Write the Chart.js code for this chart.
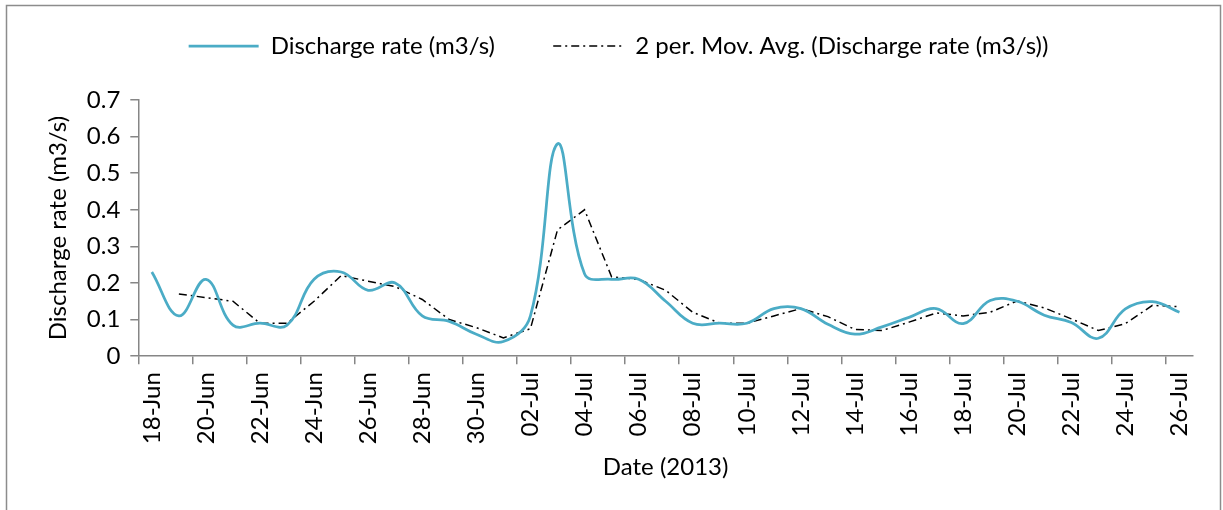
<!DOCTYPE html>
<html>
<head>
<meta charset="utf-8">
<title>Discharge rate</title>
<script src="https://cdn.jsdelivr.net/npm/chart.js@4"></script>
<style>
    html, body { margin: 0; padding: 0; background: #fff; }
    .chart-wrap { position: relative; width: 1223px; height: 510px; }
</style>
</head>
<body>
<div class="chart-wrap"><canvas id="dischargeChart"></canvas></div>
<script>
// --- Data ---
const dates = [
    '18-Jun', '19-Jun', '20-Jun', '21-Jun', '22-Jun', '23-Jun', '24-Jun', '25-Jun', '26-Jun', '27-Jun',
    '28-Jun', '29-Jun', '30-Jun', '01-Jul', '02-Jul', '03-Jul', '04-Jul', '05-Jul', '06-Jul', '07-Jul',
    '08-Jul', '09-Jul', '10-Jul', '11-Jul', '12-Jul', '13-Jul', '14-Jul', '15-Jul', '16-Jul', '17-Jul',
    '18-Jul', '19-Jul', '20-Jul', '21-Jul', '22-Jul', '23-Jul', '24-Jul', '25-Jul', '26-Jul'
];
const discharge = [
    0.23, 0.11, 0.21, 0.085, 0.09, 0.085, 0.21, 0.23, 0.18, 0.20,
    0.11, 0.095, 0.06, 0.04, 0.11, 0.58, 0.225, 0.21, 0.21, 0.15,
    0.09, 0.09, 0.09, 0.13, 0.13, 0.087, 0.06, 0.08, 0.106, 0.13,
    0.089, 0.152, 0.15, 0.112, 0.092, 0.049, 0.129, 0.149, 0.12
];
const movingAvg = [
    null, 0.17, 0.16, 0.15, 0.09, 0.09, 0.15, 0.22, 0.205, 0.19,
    0.155, 0.10, 0.078, 0.05, 0.075, 0.345, 0.40, 0.217, 0.21, 0.18,
    0.12, 0.09, 0.09, 0.11, 0.13, 0.108, 0.073, 0.07, 0.093, 0.118,
    0.11, 0.12, 0.151, 0.132, 0.102, 0.07, 0.089, 0.139, 0.135
];
const yTicks = [0, 0.1, 0.2, 0.3, 0.4, 0.5, 0.6, 0.7];

const FONT = 'Lato, "Open Sans", sans-serif';
const FONT_SIZE = 24;
const AXIS_GRAY = '#868686';

// bordure grise autour du graphique (comme dans Excel)
const frameBorder = {
    id: 'frameBorder',
    beforeDraw(chart) {
        const ctx = chart.ctx;
        ctx.save();
        ctx.strokeStyle = '#8c8c8c';
        ctx.lineWidth = 1.5;
        ctx.strokeRect(6.5, 5.5, 1214, 520);
        ctx.restore();
    }
};

// espace supplementaire sous la legende
const legendGap = {
    id: 'legendGap',
    beforeInit(chart) {
        const fit = chart.legend.fit;
        chart.legend.fit = function () {
            fit.bind(chart.legend)();
            this.height += 32;
        };
    }
};

const ctx = document.getElementById('dischargeChart').getContext('2d');
new Chart(ctx, {
    type: 'line',
    data: {
        labels: dates,
        datasets: [{
            label: 'Discharge rate (m3/s)',
            data: discharge,
            borderColor: '#4BACC6',
            backgroundColor: '#4BACC6',
            borderWidth: 2.75,
            tension: 0.4,
            pointRadius: 0,
            pointStyle: 'line',
            fill: false
        }, {
            label: '2 per. Mov. Avg. (Discharge rate (m3/s))',
            data: movingAvg,
            borderColor: '#000000',
            backgroundColor: '#000000',
            borderWidth: 1.5,
            borderDash: [8, 4, 2, 4],
            tension: 0,
            pointRadius: 0,
            pointStyle: 'line',
            fill: false
        }]
    },
    options: {
        responsive: true,
        maintainAspectRatio: false,
        animation: false,
        layout: {
            padding: { top: 24, left: 44, right: 30, bottom: 28 }
        },
        plugins: {
            legend: {
                position: 'top',
                labels: {
                    usePointStyle: true,
                    pointStyleWidth: 70,
                    boxHeight: FONT_SIZE,
                    padding: 10,
                    color: '#000',
                    font: { family: FONT, size: FONT_SIZE },
                    generateLabels: (chart) => {
                        const items = Chart.defaults.plugins.legend.labels.generateLabels(chart);
                        items.forEach((item, i) => {
                            const ds = chart.data.datasets[i];
                            item.lineDash = ds.borderDash || [];
                            item.lineWidth = ds.borderWidth;
                            item.strokeStyle = ds.borderColor;
                        });
                        // ecart entre les deux entrees de la legende
                        items[0].text += '\u2003\u2003  ';
                        return items;
                    }
                }
            },
            tooltip: { enabled: false }
        },
        scales: {
            x: {
                offset: true,
                border: { color: AXIS_GRAY, width: 1.5 },
                grid: {
                    offset: true,
                    drawOnChartArea: false,
                    drawTicks: true,
                    tickLength: 8,
                    lineWidth: 1.5,
                    color: (c) => (c.index !== undefined && c.index % 2 === 0) ? AXIS_GRAY : 'rgba(0,0,0,0)'
                },
                ticks: {
                    autoSkip: false,
                    minRotation: 90,
                    maxRotation: 90,
                    padding: 8,
                    color: '#000',
                    font: { family: FONT, size: FONT_SIZE },
                    callback: (val, i) => (i % 2 === 0 ? dates[i] : '')
                },
                title: {
                    display: true,
                    text: 'Date (2013)',
                    color: '#000',
                    font: { family: FONT, size: FONT_SIZE },
                    padding: { top: 1, bottom: 0 }
                }
            },
            y: {
                min: 0,
                max: 0.7,
                border: { color: AXIS_GRAY, width: 1.5 },
                grid: {
                    drawOnChartArea: false,
                    drawTicks: true,
                    tickLength: 8,
                    lineWidth: 1.5,
                    color: AXIS_GRAY
                },
                afterBuildTicks: (scale) => {
                    scale.ticks = yTicks.map(v => ({ value: v }));
                },
                ticks: {
                    padding: 10,
                    color: '#000',
                    font: { family: FONT, size: FONT_SIZE },
                    callback: (v) => (v === 0 ? '0' : v.toFixed(1))
                },
                title: {
                    display: true,
                    text: 'Discharge rate (m3/s)',
                    color: '#000',
                    font: { family: FONT, size: FONT_SIZE },
                    padding: { top: 0, bottom: 4 }
                }
            }
        }
    },
    plugins: [frameBorder, legendGap]
});
</script>
</body>
</html>
